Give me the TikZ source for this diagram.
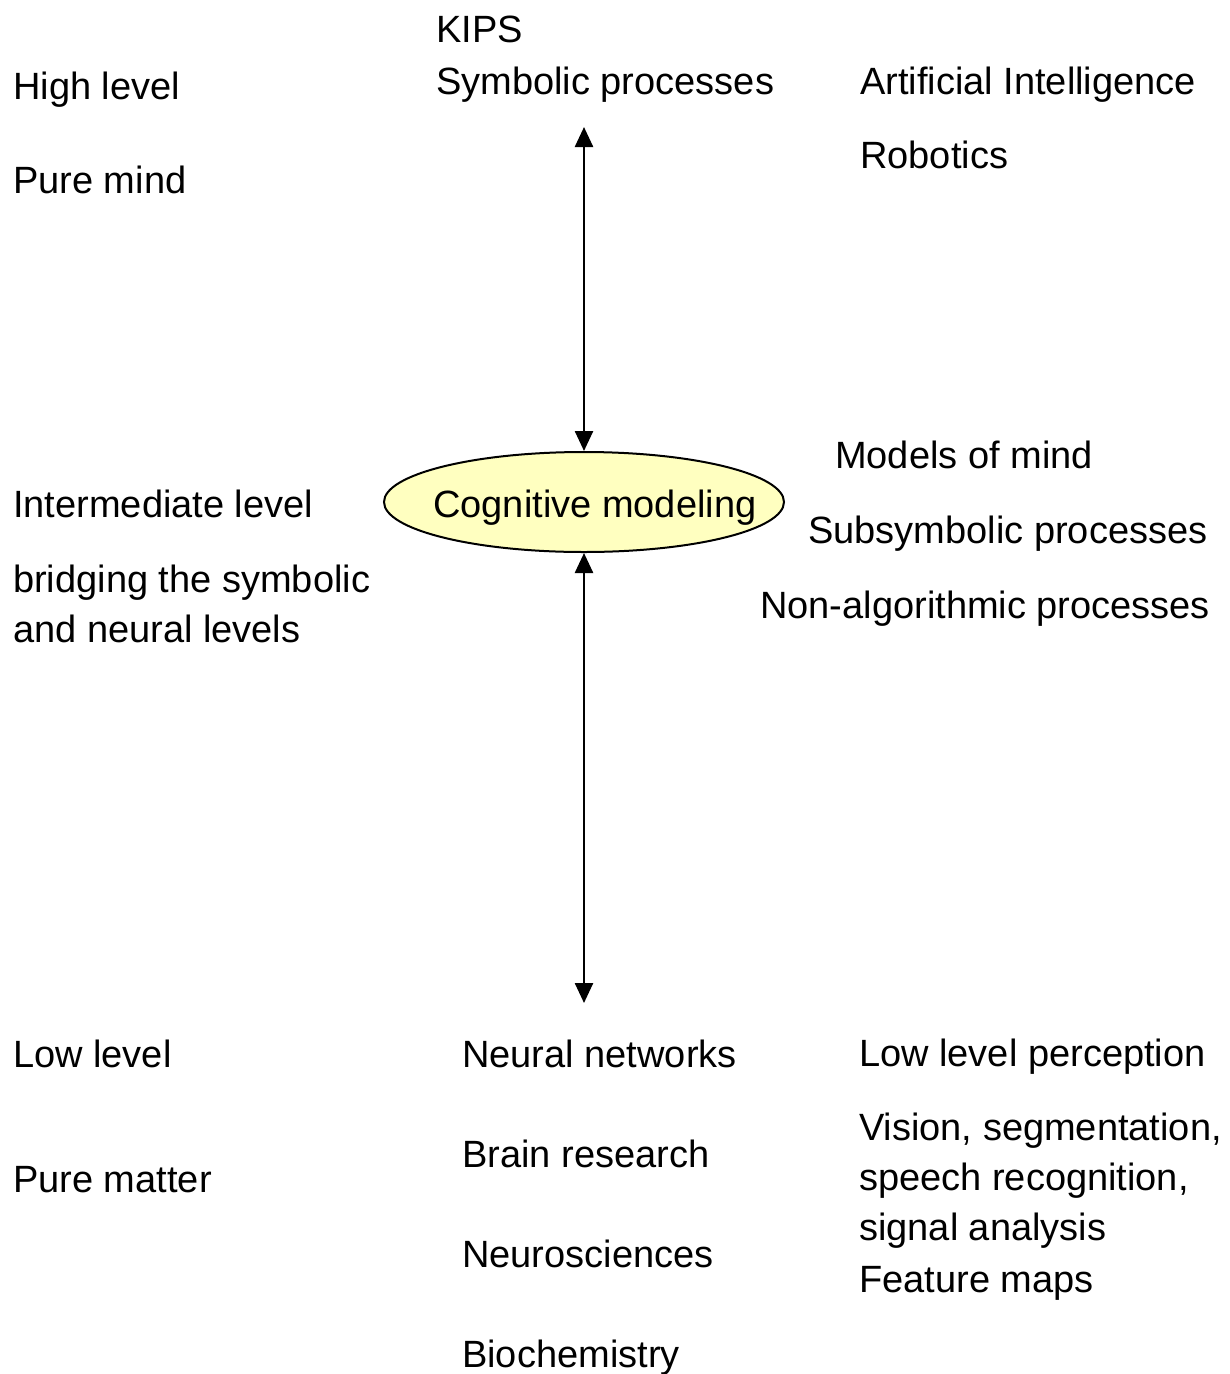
\documentclass[tikz,border=0pt]{standalone}
\usepackage{fontspec}
\setmainfont{Liberation Sans}
\usetikzlibrary{arrows.meta,shapes.geometric}
\definecolor{ellfill}{RGB}{255,255,192}
\tikzset{
  lbl/.style={anchor=base west, inner sep=0pt, font=\fontsize{38}{46}\selectfont},
  cogell/.style={ellipse, draw=black, line width=2pt, fill=ellfill, minimum width=400pt, minimum height=100pt, inner sep=0pt},
  biarrow/.style={line width=2.5pt, {Triangle[length=20pt,width=18pt]}-{Triangle[length=20pt,width=18pt]}}
}
\begin{document}
\begin{tikzpicture}[x=1pt,y=-1pt]
\useasboundingbox (0,0) rectangle (1230,1374);
% left column
\node[lbl] (high) at (13,99) {High level};
\node[lbl] (puremind) at (13,193) {Pure mind};
\node[lbl] (inter) at (13,517) {Intermediate level};
\node[lbl] (bridge1) at (13,592) {bridging the symbolic};
\node[lbl] (bridge2) at (13,642) {and neural levels};
\node[lbl] (low) at (13,1067) {Low level};
\node[lbl] (purematter) at (13,1192) {Pure matter};
% middle column
\node[lbl] (kips) at (436,42) {KIPS};
\node[lbl] (symb) at (436,94) {Symbolic processes};
\node[cogell] (cog) at (584,502) {};
\node[lbl] (cogtxt) at (433,517) {Cognitive modeling};
\node[lbl] (nn) at (462,1067) {Neural networks};
\node[lbl] (brain) at (462,1167) {Brain research};
\node[lbl] (neuro) at (462,1267) {Neurosciences};
\node[lbl] (bio) at (462,1367) {Biochemistry};
% right column
\node[lbl] (ai) at (860,94) {Artificial Intelligence};
\node[lbl] (rob) at (860,168) {Robotics};
\node[lbl] (models) at (835,468) {Models of mind};
\node[lbl] (subsym) at (808,543) {Subsymbolic processes};
\node[lbl] (nonalg) at (760,618) {Non-algorithmic processes};
\node[lbl] (llp) at (859,1066) {Low level perception};
\node[lbl] (vision) at (859,1140) {Vision, segmentation,};
\node[lbl] (speech) at (859,1190) {speech recognition,};
\node[lbl] (signal) at (859,1240) {signal analysis};
\node[lbl] (feat) at (859,1292) {Feature maps};
% arrows
\coordinate (topend) at (584,127);
\coordinate (botend) at (584,1003);
\draw[biarrow] (topend) -- (cog.north);
\draw[biarrow] (cog.south) -- (botend);
\end{tikzpicture}
\end{document}
